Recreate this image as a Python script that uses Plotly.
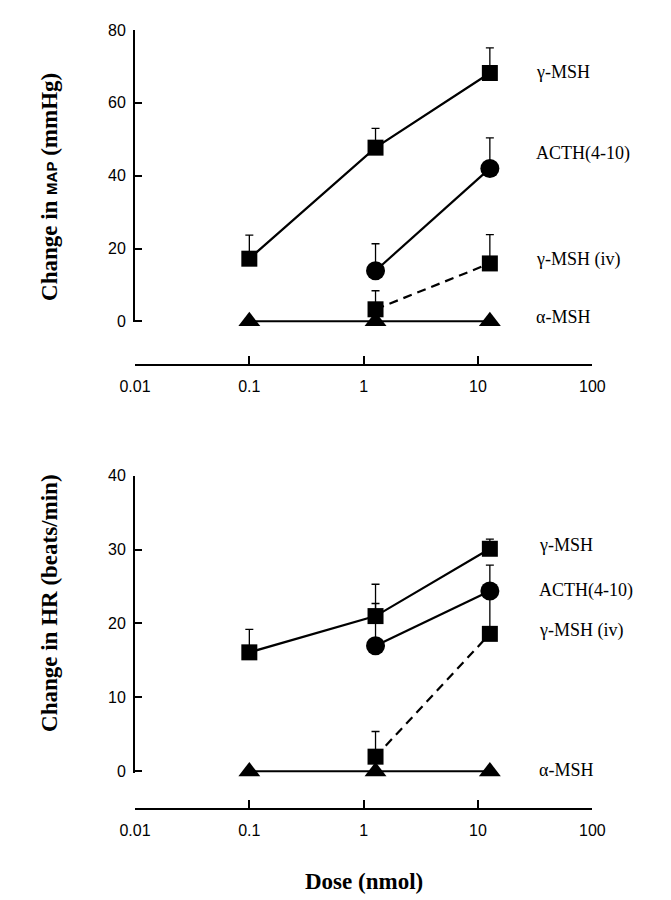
import plotly.graph_objects as go

# ---- data ----
dose = [0.1, 1.27, 12.7]
dose_hi = [1.27, 12.7]

map_gamma = [17.2, 47.7, 68.2]
map_gamma_err = [6.5, 5.3, 6.9]
map_acth = [13.9, 42.0]
map_acth_err = [7.4, 8.4]
map_iv = [3.3, 15.9]
map_iv_err = [5.1, 7.9]
map_alpha = [0, 0, 0]

hr_gamma = [16.1, 21.0, 30.1]
hr_gamma_err = [3.1, 4.3, 1.3]
hr_acth = [17.0, 24.4]
hr_acth_err = [5.7, 3.5]
hr_iv = [2.0, 18.6]
hr_iv_err = [3.4, 6.0]
hr_alpha = [0, 0, 0]

map_labels = ["γ-MSH", "ACTH(4-10)", "γ-MSH (iv)", "α-MSH"]
map_label_y = [68.6, 46.0, 17.0, 1.2]
hr_labels = ["γ-MSH", "ACTH(4-10)", "γ-MSH (iv)", "α-MSH"]
hr_label_y = [30.6, 24.4, 19.0, 0.2]

x_tickvals = [0.01, 0.1, 1, 10, 100]
x_ticktext = ["0.01", "0.1", "1", "10", "100"]

W, H = 671, 900
def px_x(p):
    return p / W
def px_y(p):
    return 1 - p / H

fig = go.Figure()

def add_series(x, y, err, symbol, size, dash, xa, ya):
    fig.add_trace(go.Scatter(
        x=x, y=y, mode="lines+markers", xaxis=xa, yaxis=ya,
        line=dict(color="black", width=2.2, dash=dash),
        marker=dict(symbol=symbol, size=size, color="black", line=dict(width=0)),
        error_y=dict(type="data", symmetric=False, array=err,
                     arrayminus=[0] * len(err), color="black",
                     thickness=1.3, width=4) if err is not None else None,
        cliponaxis=False, showlegend=False))

# top panel
add_series(dose, map_alpha, None, "triangle-up", 19, "solid", "x", "y")
add_series(dose, map_gamma, map_gamma_err, "square", 16, "solid", "x", "y")
add_series(dose_hi, map_acth, map_acth_err, "circle", 19, "solid", "x", "y")
add_series(dose_hi, map_iv, map_iv_err, "square", 16, "9px,6px", "x", "y")

# bottom panel
add_series(dose, hr_alpha, None, "triangle-up", 19, "solid", "x2", "y2")
add_series(dose, hr_gamma, hr_gamma_err, "square", 16, "solid", "x2", "y2")
add_series(dose_hi, hr_acth, hr_acth_err, "circle", 19, "solid", "x2", "y2")
add_series(dose_hi, hr_iv, hr_iv_err, "square", 16, "9px,6px", "x2", "y2")

xdom = [px_x(116), px_x(594)]
tickfont = dict(family="Liberation Sans", size=16, color="black")

xcommon = dict(type="log", range=[-2, 2], domain=xdom, tickvals=x_tickvals,
               ticktext=x_ticktext, showline=True, linecolor="black", linewidth=2,
               ticks="inside", ticklen=8, tickwidth=2, tickcolor="black",
               showgrid=False, zeroline=False, tickfont=tickfont,
               anchor="free", ticklabelstandoff=7)
ycommon = dict(showline=True, linecolor="black", linewidth=2, ticks="inside",
               ticklen=7, tickwidth=2, tickcolor="black", showgrid=False,
               zeroline=False, tickfont=tickfont, ticklabelstandoff=4)

fig.update_layout(
    width=W, height=H, margin=dict(l=0, r=0, t=0, b=0),
    paper_bgcolor="white", plot_bgcolor="rgba(0,0,0,0)",
    xaxis=dict(**xcommon, position=px_y(355)),
    yaxis=dict(**ycommon, range=[-0.3, 80], tickvals=[0, 20, 40, 60, 80],
               domain=[px_y(311.6), px_y(14.3)], anchor="x"),
    xaxis2=dict(**xcommon, position=px_y(806.5)),
    yaxis2=dict(**ycommon, range=[-0.15, 40], tickvals=[0, 10, 20, 30, 40],
                domain=[px_y(769.4), px_y(467.3)], anchor="x2"),
)

annos = []
for t, yv in zip(map_labels, map_label_y):
    annos.append(dict(x=1.49, y=yv, xref="x", yref="y", text=t, showarrow=False,
                      xanchor="left", yanchor="middle",
                      font=dict(family="Liberation Serif", size=18, color="black")))
for t, yv in zip(hr_labels, hr_label_y):
    annos.append(dict(x=1.52, y=yv, xref="x2", yref="y2", text=t, showarrow=False,
                      xanchor="left", yanchor="middle",
                      font=dict(family="Liberation Serif", size=18, color="black")))

title_font = dict(family="Liberation Serif", size=23, color="black")
annos.append(dict(x=px_x(26), y=px_y(174), xref="paper", yref="paper",
                  text='<b>Change in <span style="font-family:Liberation Sans;font-size:15px">MAP</span> (mmHg)</b>',
                  textangle=-90, showarrow=False, xanchor="center", yanchor="middle",
                  font=title_font))
annos.append(dict(x=px_x(26), y=px_y(597), xref="paper", yref="paper",
                  text="<b>Change in HR (beats/min)</b>",
                  textangle=-90, showarrow=False, xanchor="center", yanchor="middle",
                  font=title_font))
annos.append(dict(x=px_x(355), y=px_y(880), xref="paper", yref="paper",
                  text="<b>Dose (nmol)</b>", showarrow=False,
                  xanchor="center", yanchor="middle", font=title_font))
fig.update_layout(annotations=annos)

fig.write_html("out.html")
